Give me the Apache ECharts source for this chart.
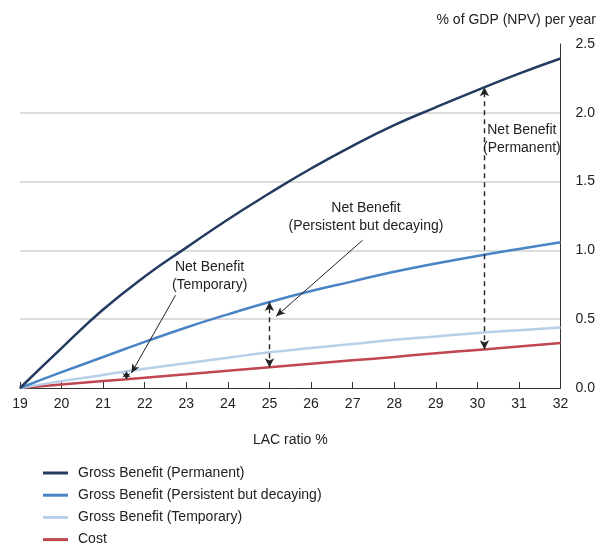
<!DOCTYPE html>
<html>
<head>
<meta charset="utf-8">
<script src="https://cdn.jsdelivr.net/npm/echarts@6/dist/echarts.min.js"></script>
<style>html,body{margin:0;padding:0;background:#fff;}#c{width:598px;height:546px;}</style>
</head>
<body>
<div id="c"></div>
<script>
var lacRatio = [19, 20, 21, 22, 23, 24, 25, 26, 27, 28, 29, 30, 31, 32];
var grossPermanent = [0, 0.29, 0.57, 0.81, 1.02, 1.225, 1.415, 1.595, 1.76, 1.91, 2.04, 2.165, 2.285, 2.395];
var grossPersistent = [0, 0.115, 0.225, 0.335, 0.44, 0.535, 0.625, 0.705, 0.775, 0.845, 0.905, 0.96, 1.01, 1.06];
var grossTemporary = [0, 0.05, 0.095, 0.14, 0.18, 0.22, 0.26, 0.29, 0.32, 0.35, 0.375, 0.40, 0.42, 0.44];
var cost = [0, 0.025, 0.05, 0.075, 0.10, 0.126, 0.151, 0.176, 0.201, 0.226, 0.252, 0.277, 0.302, 0.327];
var yTicks = [0, 0.5, 1.0, 1.5, 2.0, 2.5];
var seriesNames = ['Gross Benefit (Permanent)', 'Gross Benefit (Persistent but decaying)', 'Gross Benefit (Temporary)', 'Cost'];

function interp(arr, x) {
  var i = Math.floor(x - lacRatio[0]);
  var t = x - lacRatio[i];
  return arr[i] + (arr[i + 1] - arr[i]) * t;
}
function pairs(arr) { return lacRatio.map(function (x, i) { return [x, arr[i]]; }); }

var FONT = 'Liberation Sans, Arial, sans-serif';
var TXT = '#222';

var dashedArrow = {
  silent: true, animation: false,
  symbol: ['arrow', 'arrow'], symbolSize: [7, 9],
  label: { show: false },
  lineStyle: { type: [5, 4], color: '#222', width: 1.4 },
  emphasis: { disabled: true }
};
var calloutArrow = {
  silent: true, animation: false,
  symbol: ['none', 'arrow'], symbolSize: [6, 9],
  label: { show: false },
  lineStyle: { type: 'solid', color: '#222', width: 1 },
  emphasis: { disabled: true }
};
function textPoint(coord, text) {
  return {
    coord: coord, symbol: 'rect', symbolSize: 1,
    itemStyle: { color: 'rgba(0,0,0,0)' },
    label: { show: true, position: 'inside', formatter: text, color: TXT, fontSize: 14, lineHeight: 18, fontFamily: FONT, align: 'center' }
  };
}

var xPerm = 30.17, xPers = 25, xTemp = 21.56;

var option = {
  animation: false,
  textStyle: { fontFamily: FONT },
  title: {
    text: '% of GDP (NPV) per year', right: 2, top: 13, padding: 0,
    textStyle: { fontSize: 14, fontWeight: 'normal', color: TXT, fontFamily: FONT }
  },
  legend: {
    orient: 'vertical', left: 43, top: 466, padding: 0, height: 120,
    icon: 'rect', itemWidth: 25, itemHeight: 3, itemGap: 8.2,
    data: seriesNames,
    textStyle: { fontSize: 14, color: TXT, fontFamily: FONT, lineHeight: 14, padding: [0, 0, 0, 5] }
  },
  grid: { left: 20, right: 35, top: 44, bottom: 158, containLabel: false },
  xAxis: {
    type: 'value', min: 19, max: 32, interval: 1,
    name: 'LAC ratio %', nameLocation: 'middle', nameGap: 45,
    nameTextStyle: { fontSize: 14, color: TXT, fontFamily: FONT },
    axisLine: { show: true, lineStyle: { color: '#333', width: 1 } },
    axisTick: { show: true, inside: true, length: 6, lineStyle: { color: '#333' } },
    axisLabel: { fontSize: 14, color: TXT, margin: 9, fontFamily: FONT },
    splitLine: { show: false }
  },
  yAxis: {
    type: 'value', position: 'right', min: yTicks[0], max: yTicks[yTicks.length - 1], interval: 0.5,
    axisLine: { show: true, lineStyle: { color: '#333', width: 1 } },
    axisTick: { show: false },
    axisLabel: { fontSize: 14, color: TXT, margin: 15, fontFamily: FONT, formatter: function (v) { return v.toFixed(1); } },
    splitLine: { show: true, lineStyle: { color: ['rgba(0,0,0,0)', '#dcdcdc', '#dcdcdc', '#dcdcdc', '#dcdcdc', 'rgba(0,0,0,0)'], width: 2 } }
  },
  series: [
    {
      name: seriesNames[0], type: 'line', data: pairs(grossPermanent), smooth: 0.5, symbol: 'none',
      lineStyle: { color: '#243b61', width: 2.5 }, itemStyle: { color: '#243b61' }, z: 5,
      markLine: Object.assign({}, dashedArrow, {
        data: [[{ coord: [xPerm, interp(cost, xPerm)] }, { coord: [xPerm, interp(grossPermanent, xPerm)] }]]
      }),
      markPoint: { silent: true, animation: false, data: [textPoint([31.07, 1.805], 'Net Benefit\n(Permanent)')] }
    },
    {
      name: seriesNames[1], type: 'line', data: pairs(grossPersistent), smooth: 0.5, symbol: 'none',
      lineStyle: { color: '#4a84c4', width: 2.5 }, itemStyle: { color: '#4a84c4' }, z: 4,
      markLine: Object.assign({}, dashedArrow, {
        data: [[{ coord: [xPers, interp(cost, xPers)] }, { coord: [xPers, interp(grossPersistent, xPers)] }]]
      }),
      markPoint: { silent: true, animation: false, data: [textPoint([27.32, 1.241], 'Net Benefit\n(Persistent but decaying)')] }
    },
    {
      name: seriesNames[2], type: 'line', data: pairs(grossTemporary), smooth: 0.5, symbol: 'none',
      lineStyle: { color: '#b7cfe9', width: 2.5 }, itemStyle: { color: '#b7cfe9' }, z: 3,
      markLine: Object.assign({}, dashedArrow, {
        symbolSize: [6, 6], lineStyle: { type: 'solid', color: '#222', width: 1 },
        data: [[{ coord: [xTemp, interp(cost, xTemp)] }, { coord: [xTemp, interp(grossTemporary, xTemp)] }]]
      }),
      markPoint: { silent: true, animation: false, data: [textPoint([23.56, 0.816], 'Net Benefit\n(Temporary)')] }
    },
    {
      name: seriesNames[3], type: 'line', data: pairs(cost), smooth: 0.5, symbol: 'none',
      lineStyle: { color: '#c0464f', width: 2.5 }, itemStyle: { color: '#c0464f' }, z: 2,
      markLine: Object.assign({}, calloutArrow, {
        data: [
          [{ coord: [22.74, 0.674] }, { coord: [21.68, 0.109] }],
          [{ coord: [27.24, 1.074] }, { coord: [25.16, 0.521] }]
        ]
      })
    }
  ]
};
var chart = echarts.init(document.getElementById('c'), null, { renderer: 'canvas' });
chart.setOption(option);
</script>
</body>
</html>
